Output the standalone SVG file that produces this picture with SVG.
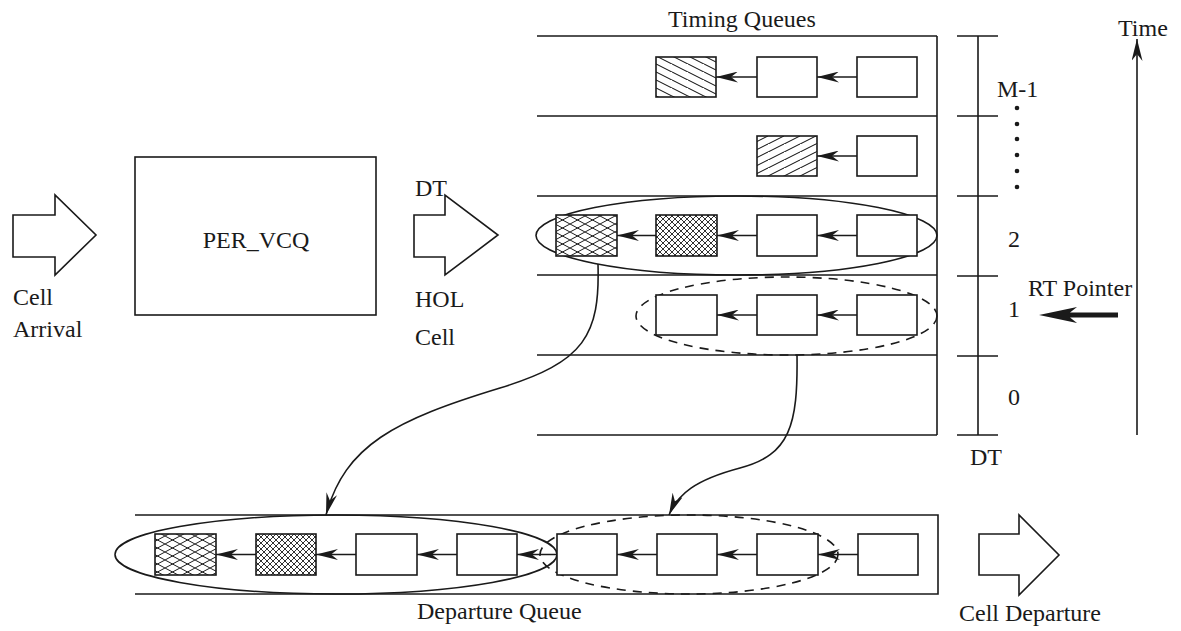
<svg xmlns="http://www.w3.org/2000/svg" width="1181" height="631" viewBox="0 0 1181 631">
<style>
text{font-family:"Liberation Serif","Times New Roman",serif;font-size:24px;fill:#1a1a1a}
.ln{stroke:#1a1a1a;stroke-width:1.6;fill:none}
.bx{stroke:#1a1a1a;stroke-width:1.6;fill:#fff}
.ds{stroke:#1a1a1a;stroke-width:1.6;fill:none;stroke-dasharray:9 7}
.lk{stroke:#1a1a1a;stroke-width:1.4;fill:none;marker-end:url(#ah)}
.cv{stroke:#1a1a1a;stroke-width:1.6;fill:none;marker-end:url(#ah)}
</style>
<defs>
<marker id="ah" viewBox="0 0 22 11" refX="22" refY="5.5" markerWidth="22" markerHeight="11" markerUnits="userSpaceOnUse" orient="auto">
<path d="M0,0 L22,5.5 L0,11 L7,5.5 Z" fill="#1a1a1a"/>
</marker>
<pattern id="hatchDown" patternUnits="userSpaceOnUse" width="16" height="8">
<rect width="16" height="8" fill="#fff"/>
<path d="M-4,-2 L20,10 M-20,-2 L4,10" stroke="#1a1a1a" stroke-width="1.1"/>
</pattern>
<pattern id="hatchUp" patternUnits="userSpaceOnUse" width="16" height="8">
<rect width="16" height="8" fill="#fff"/>
<path d="M-4,10 L20,-2 M12,10 L36,-2" stroke="#1a1a1a" stroke-width="1.1"/>
</pattern>
<pattern id="xCoarse" patternUnits="userSpaceOnUse" width="15" height="8">
<rect width="15" height="8" fill="#fff"/>
<path d="M0,0 L15,8 M0,8 L15,0" stroke="#1a1a1a" stroke-width="1"/>
</pattern>
<pattern id="xFine" patternUnits="userSpaceOnUse" width="6" height="6">
<rect width="6" height="6" fill="#fff"/>
<path d="M0,0 L6,6 M0,6 L6,0" stroke="#1a1a1a" stroke-width="0.9"/>
</pattern>
</defs>
<rect width="1181" height="631" fill="#fff"/>

<g id="cell-arrival">
<polygon class="ln" points="13,215 55,215 55,195 96,235 55,275 55,257 13,257"/>
<text x="13" y="305">Cell</text>
<text x="13" y="337">Arrival</text>
</g>

<g id="per-vcq">
<rect class="bx" x="135" y="157" width="241" height="158"/>
<text x="256" y="248" text-anchor="middle">PER_VCQ</text>
</g>

<g id="dt-hol">
<polygon class="ln" points="414,215 445,215 445,195 498,235 445,275 445,257 414,257"/>
<text x="415" y="196">DT</text>
<text x="415" y="307">HOL</text>
<text x="415" y="345">Cell</text>
</g>

<g id="timing-queues">
<text x="668" y="27">Timing Queues</text>
<path class="ln" d="M537,36 H937 M537,116 H937 M537,196 H937 M537,275 H937 M537,355 H937 M537,435 H937 M937,36 V435"/>
</g>

<g id="row-m1">
<rect x="656" y="57" width="60" height="40" class="bx" style="fill:url(#hatchDown)"/>
<rect class="bx" x="757" y="57" width="60" height="40"/>
<rect class="bx" x="857" y="57" width="60" height="40"/>
</g>
<g id="row-dots">
<rect x="757" y="136" width="60" height="40" class="bx" style="fill:url(#hatchUp)"/>
<rect class="bx" x="857" y="136" width="60" height="40"/>
</g>
<g id="row-2">
<ellipse class="ln" cx="736.5" cy="235.5" rx="200.5" ry="39.5"/>
<rect x="556" y="215" width="61" height="41" class="bx" style="fill:url(#xCoarse)"/>
<rect x="656" y="215" width="61" height="41" class="bx" style="fill:url(#xFine)"/>
<rect class="bx" x="757" y="215" width="60" height="41"/>
<rect class="bx" x="857" y="215" width="60" height="41"/>
</g>
<g id="row-1">
<ellipse class="ds" cx="786.5" cy="316" rx="150.5" ry="39"/>
<rect class="bx" x="656" y="295" width="61" height="40"/>
<rect class="bx" x="757" y="295" width="60" height="40"/>
<rect class="bx" x="857" y="295" width="60" height="40"/>
</g>

<g id="scale">
<path class="ln" d="M978,36 V435 M957,36 H998 M957,116 H998 M957,196 H998 M957,276 H998 M957,356 H998 M957,435 H998"/>
<text x="997" y="97">M-1</text>
<g fill="#1a1a1a">
<circle cx="1017" cy="108" r="2.3"/><circle cx="1017" cy="124" r="2.3"/><circle cx="1017" cy="139" r="2.3"/>
<circle cx="1017" cy="155" r="2.3"/><circle cx="1017" cy="171" r="2.3"/><circle cx="1017" cy="187" r="2.3"/>
</g>
<text x="1008" y="247">2</text>
<text x="1008" y="317">1</text>
<text x="1008" y="405">0</text>
<text x="970" y="465">DT</text>
</g>

<g id="time-axis">
<line x1="1137" y1="435" x2="1137" y2="39" stroke="#1a1a1a" stroke-width="1.6" marker-end="url(#ah)"/>
<text x="1118" y="36">Time</text>
</g>

<g id="rt-pointer">
<text x="1028" y="296">RT Pointer</text>
<path d="M1039,315 L1077,307 L1070,312.5 L1118,312.5 L1118,317.5 L1070,317.5 L1077,323 Z" fill="#1a1a1a"/>
</g>

<g id="departure-queue">
<path class="ln" d="M135,515 H938 V594 H135"/>
<ellipse class="ln" cx="336" cy="554.5" rx="221" ry="39.5"/>
<ellipse class="ds" cx="689" cy="554.5" rx="149" ry="39.5"/>
<rect x="155" y="534" width="61" height="41" class="bx" style="fill:url(#xCoarse)"/>
<rect x="256" y="534" width="60" height="41" class="bx" style="fill:url(#xFine)"/>
<rect class="bx" x="356" y="534" width="61" height="41"/>
<rect class="bx" x="457" y="534" width="60" height="41"/>
<rect class="bx" x="557" y="534" width="60" height="41"/>
<rect class="bx" x="657" y="534" width="60" height="41"/>
<rect class="bx" x="757" y="534" width="61" height="41"/>
<rect class="bx" x="858" y="534" width="60" height="41"/>
<text x="417" y="619">Departure Queue</text>
</g>

<g id="cell-departure">
<polygon class="ln" points="979,534 1019,534 1019,515 1059,555 1019,595 1019,575 979,575"/>
<text x="959" y="621">Cell Departure</text>
</g>

<g id="connectors">
<path class="lk" d="M757,77 H716"/>
<path class="lk" d="M857,77 H817"/>
<path class="lk" d="M857,156 H817"/>
<path class="lk" d="M656,235.5 H617"/>
<path class="lk" d="M757,235.5 H717"/>
<path class="lk" d="M857,235.5 H817"/>
<path class="lk" d="M757,315 H717"/>
<path class="lk" d="M857,315 H817"/>
<path class="lk" d="M256,554.5 H216"/>
<path class="lk" d="M356,554.5 H316"/>
<path class="lk" d="M457,554.5 H417"/>
<path class="lk" d="M557,554.5 H517"/>
<path class="lk" d="M657,554.5 H617"/>
<path class="lk" d="M757,554.5 H717"/>
<path class="lk" d="M858,554.5 H818"/>
<path class="cv" d="M598,264 C600,335 585,362 500,388 C395,420 345,445 326,515"/>
<path class="cv" d="M797,355 C798,425 790,455 740,468 C695,480 678,494 669,515"/>
</g>
</svg>
